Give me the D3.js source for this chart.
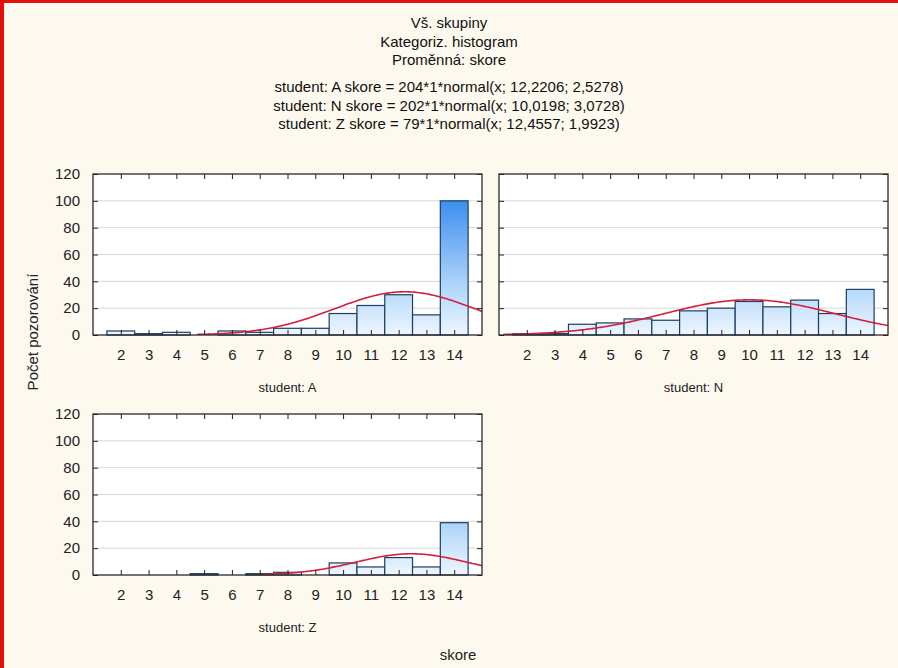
<!DOCTYPE html>
<html>
<head>
<meta charset="utf-8">
<script src="https://cdn.jsdelivr.net/npm/d3@7"></script>
<style>
  body { margin: 0; background: #fdf9ee; }
  svg { display: block; font-family: "Liberation Sans", Arial, sans-serif; }
</style>
</head>
<body>
<svg id="chart" width="898" height="668"></svg>
<script>
// data
const skore = [2, 3, 4, 5, 6, 7, 8, 9, 10, 11, 12, 13, 14];
const countsA = [3, 1, 2, 0, 3, 2, 5, 5, 16, 22, 30, 15, 100];
const countsN = [1, 1, 8, 9, 12, 11, 18, 20, 25, 21, 26, 16, 34];
const countsZ = [0, 0, 0, 1, 0, 1, 2, 0, 9, 6, 13, 6, 39];
const yTicks = [0, 20, 40, 60, 80, 100, 120];
const titles = ["Vš. skupiny", "Kategoriz. histogram", "Proměnná: skore"];
const fitLines = [
  "student: A skore = 204*1*normal(x; 12,2206; 2,5278)",
  "student: N skore = 202*1*normal(x; 10,0198; 3,0728)",
  "student: Z skore = 79*1*normal(x; 12,4557; 1,9923)"
];
const panels = [
  { name: "student: A", counts: countsA, n: 204, mean: 12.2206, sd: 2.5278 },
  { name: "student: N", counts: countsN, n: 202, mean: 10.0198, sd: 3.0728 },
  { name: "student: Z", counts: countsZ, n: 79, mean: 12.4557, sd: 1.9923 }
];

const svg = d3.select("#chart");

// red frame at the left and top
svg.append("rect").attr("x", 0).attr("y", 0).attr("width", 898).attr("height", 3).attr("fill", "#e31010");
svg.append("rect").attr("x", 0).attr("y", 0).attr("width", 4).attr("height", 668).attr("fill", "#e31010");

// titles
const head = svg.append("g").attr("font-size", 15).attr("fill", "#111").attr("text-anchor", "middle");
titles.forEach((t, i) => head.append("text").attr("x", 449).attr("y", 28 + i * 18.5).text(t));
fitLines.forEach((t, i) => head.append("text").attr("x", 449).attr("y", 92 + i * 18.5).text(t));

const defs = svg.append("defs");

const boxes = [
  { x: 93, y: 174, w: 389, h: 161, yLabels: true },
  { x: 499, y: 174, w: 389, h: 161, yLabels: false },
  { x: 93, y: 414, w: 389, h: 161, yLabels: true }
];

const normal = (x, m, s) => Math.exp(-0.5 * ((x - m) / s) ** 2) / (s * Math.sqrt(2 * Math.PI));

panels.forEach((p, k) => {
  const b = boxes[k];
  const x = d3.scaleLinear().domain([1, 15]).range([0, b.w]);
  const y = d3.scaleLinear().domain([0, 120]).range([b.h, 0]);
  const g = svg.append("g").attr("transform", `translate(${b.x},${b.y})`);

  // gradient for the bars (dark at the top of the plot, light at the bottom)
  const gid = "grad" + k;
  const grad = defs.append("linearGradient").attr("id", gid)
    .attr("gradientUnits", "userSpaceOnUse")
    .attr("x1", 0).attr("x2", 0).attr("y1", y(0)).attr("y2", y(110));
  grad.append("stop").attr("offset", 0).attr("stop-color", "#eef6fe");
  grad.append("stop").attr("offset", 0.3).attr("stop-color", "#b6d9fa");
  grad.append("stop").attr("offset", 1).attr("stop-color", "#2b83ee");

  const cid = "clip" + k;
  defs.append("clipPath").attr("id", cid).append("rect").attr("width", b.w).attr("height", b.h);

  g.append("rect").attr("width", b.w).attr("height", b.h).attr("fill", "#fff");

  // grid
  g.selectAll(".grid").data(yTicks.slice(1, -1)).join("line")
    .attr("x1", 0).attr("x2", b.w)
    .attr("y1", d => y(d)).attr("y2", d => y(d))
    .attr("stroke", "#d6d6d6").attr("stroke-width", 1);

  // bars
  g.selectAll(".bar").data(skore.map((s, i) => ({ s, c: p.counts[i] })).filter(d => d.c > 0))
    .join("rect")
    .attr("x", d => x(d.s - 0.5))
    .attr("y", d => y(d.c))
    .attr("width", x(2) - x(1))
    .attr("height", d => y(0) - y(d.c))
    .attr("fill", `url(#${gid})`)
    .attr("stroke", "#1d3d62").attr("stroke-width", 1.2);

  // fitted normal curve (hidden where it runs along the zero line)
  const pts = d3.range(1, 15.001, 0.05)
    .map(v => [v, p.n * normal(v, p.mean, p.sd)])
    .filter(d => d[1] > 0.4);
  g.append("path").datum(pts)
    .attr("clip-path", `url(#${cid})`)
    .attr("d", d3.line().x(d => x(d[0])).y(d => y(d[1])))
    .attr("fill", "none").attr("stroke", "#d2213f").attr("stroke-width", 1.6);

  // axes: ticks inward on all sides
  const axB = g.append("g").attr("transform", `translate(0,${b.h})`)
    .call(d3.axisBottom(x).tickValues(skore).tickSize(-5).tickPadding(14).tickFormat(d3.format("d")));
  const axT = g.append("g").call(d3.axisTop(x).tickValues(skore).tickSize(-5).tickFormat(""));
  const axL = g.append("g").call(d3.axisLeft(y).tickValues(yTicks).tickSize(-5).tickPadding(13)
    .tickFormat(b.yLabels ? d3.format("d") : ""));
  const axR = g.append("g").attr("transform", `translate(${b.w},0)`)
    .call(d3.axisRight(y).tickValues(yTicks).tickSize(-5).tickFormat(""));
  [axB, axT, axL, axR].forEach(a => {
    a.select(".domain").remove();
    a.selectAll(".tick line").attr("stroke", "#222");
    a.selectAll("text").attr("font-size", 15).attr("font-family", "Liberation Sans, Arial, sans-serif").attr("fill", "#222");
  });

  g.append("rect").attr("width", b.w).attr("height", b.h)
    .attr("fill", "none").attr("stroke", "#2a2a2a").attr("stroke-width", 1.3);

  g.append("text").attr("x", b.w / 2).attr("y", b.h + 57)
    .attr("text-anchor", "middle").attr("font-size", 13).attr("fill", "#222").text(p.name);
});

// axis titles
svg.append("text").attr("transform", "translate(38,332) rotate(-90)")
  .attr("text-anchor", "middle").attr("font-size", 15).attr("fill", "#222").text("Počet pozorování");
svg.append("text").attr("x", 458).attr("y", 660)
  .attr("text-anchor", "middle").attr("font-size", 15).attr("fill", "#222").text("skore");
</script>
</body>
</html>
